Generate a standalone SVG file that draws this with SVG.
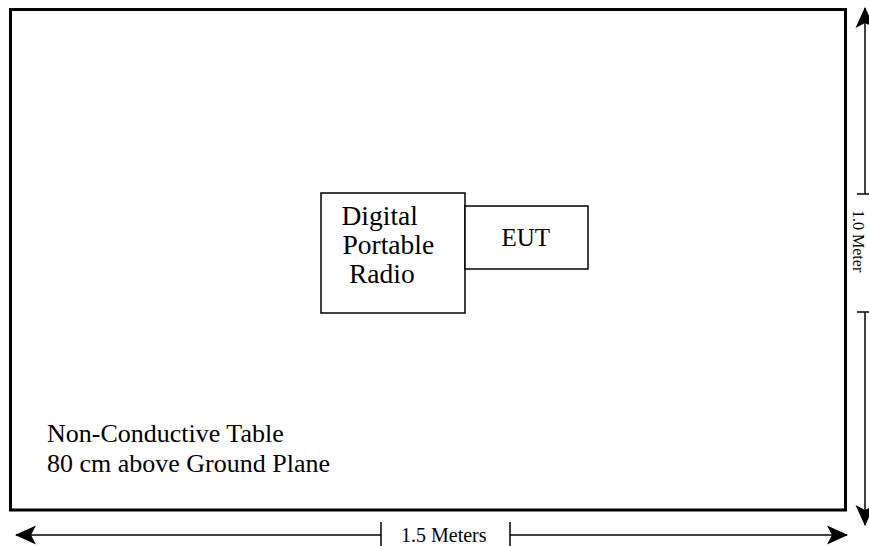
<svg xmlns="http://www.w3.org/2000/svg" width="869" height="546" viewBox="0 0 869 546">
  <style>
    .txt { font-family: "Liberation Serif", "Times New Roman", serif; fill: #000; }
    .box { fill: #fff; stroke: #000; stroke-width: 1.5; }
    .dim { stroke: #000; stroke-width: 1.5; fill: none; }
  </style>
  <defs>
    <marker id="arrow" markerUnits="userSpaceOnUse" markerWidth="24" markerHeight="24" refX="20" refY="10" orient="auto" overflow="visible">
      <path d="M21,10 L0,0.5 L5,10 L0,19.5 Z" fill="#000"/>
    </marker>
  </defs>
  <rect width="869" height="546" fill="#fff"/>
  <g id="table">
    <rect x="10.5" y="9.5" width="835" height="500.5" fill="#fff" stroke="#000" stroke-width="3"/>
    <text class="txt" x="47" y="441.5" font-size="26">Non-Conductive Table</text>
    <text class="txt" x="47" y="471.5" font-size="26">80 cm above Ground Plane</text>
  </g>
  <g id="radio">
    <rect class="box" x="321" y="193" width="144" height="120"/>
    <text class="txt" x="341.5" y="225" font-size="27.5">Digital</text>
    <text class="txt" x="342.5" y="254" font-size="27.5">Portable</text>
    <text class="txt" x="349" y="283" font-size="27.5">Radio</text>
  </g>
  <g id="eut">
    <rect class="box" x="465" y="206" width="123" height="63"/>
    <text class="txt" x="501.5" y="246" font-size="25">EUT</text>
  </g>
  <g id="connectors">
    <line class="dim" x1="381" y1="535" x2="16" y2="535" marker-end="url(#arrow)"/>
    <line class="dim" x1="510" y1="535" x2="847" y2="535" marker-end="url(#arrow)"/>
    <line class="dim" x1="381" y1="522" x2="381" y2="546"/>
    <line class="dim" x1="510" y1="522" x2="510" y2="546"/>
    <line class="dim" x1="865" y1="194" x2="865" y2="8" marker-end="url(#arrow)"/>
    <line class="dim" x1="865" y1="312" x2="865" y2="525" marker-end="url(#arrow)"/>
    <line class="dim" x1="857" y1="194" x2="869" y2="194"/>
    <line class="dim" x1="857" y1="312" x2="869" y2="312"/>
  </g>
  <g id="labels">
    <text class="txt" x="401" y="542" font-size="20">1.5 Meters</text>
    <text class="txt" font-size="16" transform="translate(853,210) rotate(90)">1.0 Meter</text>
  </g>
</svg>
